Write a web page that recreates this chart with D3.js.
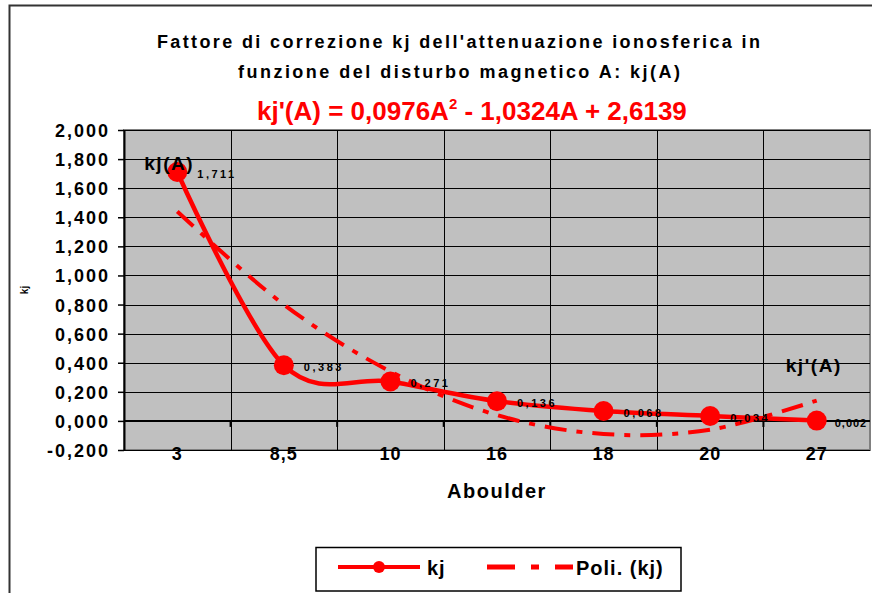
<!DOCTYPE html>
<html><head><meta charset="utf-8">
<script src="https://cdn.jsdelivr.net/npm/d3@7"></script>
<style>
html,body{margin:0;padding:0;background:#fff;overflow:hidden}
svg{display:block;font-family:"Liberation Sans",Arial,sans-serif;font-weight:bold}
</style></head><body>
<svg id="chart" width="872" height="593"></svg>
<script>
// ---- data ----
const categories = ["3","8,5","10","16","18","20","27"];
const kj = [1.711,0.383,0.271,0.136,0.068,0.034,0.002];
const trend = [1.44,0.80,0.34,0.04,-0.09,-0.06,0.14];   // "Poli. (kj)"
const yTicks = [-0.2,0,0.2,0.4,0.6,0.8,1.0,1.2,1.4,1.6,1.8,2.0];
const titleLines = ["Fattore di correzione kj dell'attenuazione ionosferica in","funzione del disturbo magnetico A: kj(A)"];
const equationParts = ["kj'(A) = 0,0976A","2"," - 1,0324A + 2,6139"];
const legendNames = ["kj","Poli. (kj)"];

// ---- setup ----
const svg = d3.select("#chart");
const RED = "#FF0000";
const plot = {left:124, right:870, top:130, bottom:450};
const x = d3.scaleBand().domain(categories).range([plot.left, plot.right]).padding(0);
const bw = x.bandwidth();
const cx = c => x(c) + bw/2;
const y = d3.scaleLinear().domain([-0.2, 2.0]).range([plot.bottom, plot.top]);
const loc = d3.formatLocale({decimal:",", thousands:".", grouping:[3], currency:["",""], minus:"-"});
const f3 = loc.format(".3f");

// outer chart border
svg.append("rect").attr("x",9.5).attr("y",5.5).attr("width",900).attr("height",620)
  .attr("fill","#fff").attr("stroke","#333").attr("stroke-width",2);

// titles
svg.append("text").attr("x",157).attr("y",48).attr("font-size",18)
  .attr("textLength",603).attr("lengthAdjust","spacing").text(titleLines[0]);
svg.append("text").attr("x",238).attr("y",78).attr("font-size",18)
  .attr("textLength",442).attr("lengthAdjust","spacing").text(titleLines[1]);
const eq = svg.append("text").attr("x",257).attr("y",120).attr("font-size",26).attr("fill",RED);
eq.append("tspan").text(equationParts[0]);
eq.append("tspan").attr("font-size",15).attr("dy",-11).text(equationParts[1]);
eq.append("tspan").attr("dy",11).text(equationParts[2]);

// plot area
svg.append("rect").attr("x",plot.left).attr("y",plot.top)
  .attr("width",plot.right-plot.left).attr("height",plot.bottom-plot.top)
  .attr("fill","#C0C0C0").attr("stroke","#808080").attr("stroke-width",2);

// horizontal gridlines
svg.append("g").selectAll("line").data(yTicks).join("line")
  .attr("x1",plot.left).attr("x2",plot.right)
  .attr("y1",d=>Math.round(y(d))+0.5).attr("y2",d=>Math.round(y(d))+0.5)
  .attr("stroke","#000").attr("stroke-width",1);
// vertical gridlines between categories
svg.append("g").selectAll("line").data(categories.slice(1)).join("line")
  .attr("x1",d=>Math.round(x(d))+0.5).attr("x2",d=>Math.round(x(d))+0.5)
  .attr("y1",plot.top).attr("y2",plot.bottom)
  .attr("stroke","#000").attr("stroke-width",1);

// y axis
const yAxis = svg.append("g").attr("transform",`translate(${plot.left},0)`)
  .call(d3.axisLeft(y).tickValues(yTicks).tickFormat(f3).tickSize(6).tickSizeOuter(0).tickPadding(8));
yAxis.select(".domain").attr("stroke","#000").attr("stroke-width",2);
yAxis.selectAll(".tick line").attr("stroke","#000").attr("stroke-width",1.5);
yAxis.selectAll(".tick text").attr("font-size",18).attr("font-weight","bold")
  .attr("font-family","Liberation Sans, Arial, sans-serif").attr("fill","#000")
  .attr("letter-spacing",2).attr("dy","0.36em");

// category axis crossing at 0
const y0 = y(0);
svg.append("line").attr("x1",plot.left).attr("x2",plot.right).attr("y1",y0).attr("y2",y0)
  .attr("stroke","#000").attr("stroke-width",2);
svg.append("g").selectAll("line").data(categories.slice(1)).join("line")
  .attr("x1",d=>x(d)).attr("x2",d=>x(d)).attr("y1",y0).attr("y2",y0+6)
  .attr("stroke","#000").attr("stroke-width",2);
// category labels (low)
const xAxis = svg.append("g").attr("transform",`translate(0,${plot.bottom})`)
  .call(d3.axisBottom(x).tickSize(0).tickPadding(0));
xAxis.select(".domain").remove();
xAxis.selectAll(".tick text").attr("font-size",18).attr("font-weight","bold")
  .attr("font-family","Liberation Sans, Arial, sans-serif").attr("fill","#000")
  .attr("dy",0).attr("y",10).attr("letter-spacing",1);

// axis titles
svg.append("text").attr("x",(plot.left+plot.right)/2).attr("y",498).attr("font-size",20)
  .attr("text-anchor","middle").attr("letter-spacing",1.5).text("Aboulder");
svg.append("text").attr("transform",`translate(28,${(plot.top+plot.bottom)/2}) rotate(-90)`)
  .attr("font-size",10).attr("text-anchor","middle").text("kj");

// trendline
const trendLine = d3.line().x((d,i)=>cx(categories[i])).y(d=>y(d)).curve(d3.curveCatmullRom.alpha(0));
svg.append("path").attr("d",trendLine(trend)).attr("fill","none").attr("stroke",RED)
  .attr("stroke-width",4).attr("stroke-dasharray","22,10,6,10");

// series line
const line = d3.line().x((d,i)=>cx(categories[i])).y(d=>y(d)).curve(d3.curveCardinal.tension(0));
svg.append("path").attr("d",line(kj)).attr("fill","none").attr("stroke",RED).attr("stroke-width",4.5);
svg.append("g").selectAll("circle").data(kj).join("circle")
  .attr("cx",(d,i)=>cx(categories[i])).attr("cy",d=>y(d)).attr("r",10).attr("fill",RED);

// data labels
const last = kj.length - 1;
svg.append("g").selectAll("text").data(kj).join("text")
  .attr("x",(d,i)=>cx(categories[i]) + (i===last ? 18 : 20)).attr("y",d=>y(d)+6)
  .attr("font-size",11).attr("letter-spacing",(d,i)=> i===last ? 1 : 2.5)
  .attr("fill","#000").text(d=>f3(d));

// annotations
svg.append("text").attr("x",cx(categories[0])-33).attr("y",y(kj[0])-2)
  .attr("font-size",19).attr("letter-spacing",1.5).text("kj(A)");
svg.append("text").attr("x",cx(categories[6])-31).attr("y",372)
  .attr("font-size",19).attr("letter-spacing",1.6).text("kj'(A)");

// legend
const lg = svg.append("g");
lg.append("rect").attr("x",316).attr("y",547.5).attr("width",365).attr("height",43.5)
  .attr("fill","#fff").attr("stroke","#000").attr("stroke-width",1.5);
lg.append("line").attr("x1",338).attr("x2",420).attr("y1",567).attr("y2",567).attr("stroke",RED).attr("stroke-width",4);
lg.append("circle").attr("cx",379).attr("cy",567).attr("r",6).attr("fill",RED);
lg.append("text").attr("x",427).attr("y",575).attr("font-size",20).attr("letter-spacing",1).text(legendNames[0]);
lg.append("line").attr("x1",487).attr("x2",573).attr("y1",567).attr("y2",567).attr("stroke",RED)
  .attr("stroke-width",5).attr("stroke-dasharray","28,16,8,16");
lg.append("text").attr("x",576).attr("y",575).attr("font-size",20).attr("letter-spacing",1).text(legendNames[1]);
</script>
</body></html>
